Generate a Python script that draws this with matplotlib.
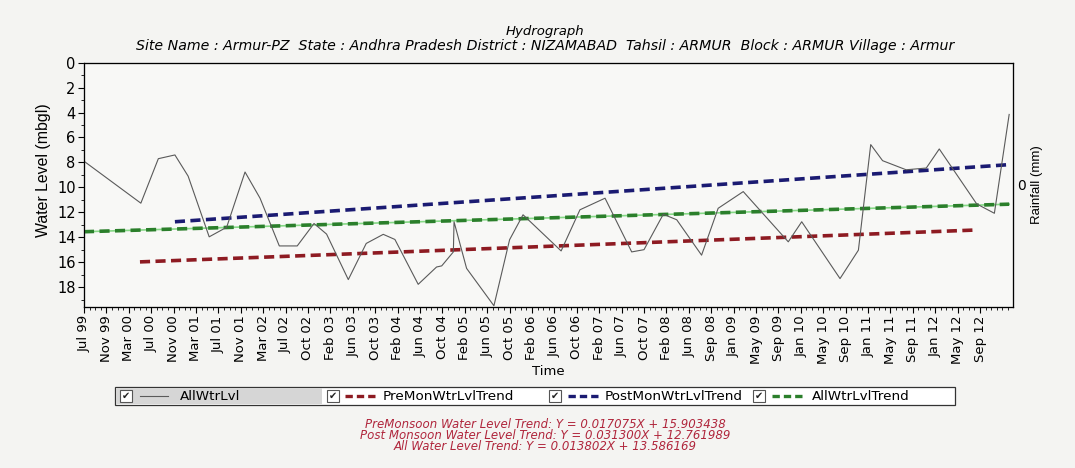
import matplotlib.pyplot as plt
import numpy as np
from matplotlib.lines import Line2D
from matplotlib.patches import Rectangle

plt.rcParams["font.family"] = ["Liberation Sans", "DejaVu Sans"]

# tick labels along the time axis (equally spaced categories)
tick_labels = [
    "Jul 99", "Nov 99", "Mar 00", "Jul 00", "Nov 00", "Mar 01", "Jul 01", "Nov 01",
    "Mar 02", "Jul 02", "Oct 02", "Feb 03", "Jun 03", "Oct 03", "Feb 04", "Jun 04",
    "Oct 04", "Feb 05", "Jun 05", "Oct 05", "Feb 06", "Jun 06", "Oct 06", "Feb 07",
    "Jun 07", "Oct 07", "Feb 08", "Jun 08", "Sep 08", "Jan 09", "May 09", "Sep 09",
    "Jan 10", "May 10", "Sep 10", "Jan 11", "May 11", "Sep 11", "Jan 12", "May 12",
    "Sep 12",
]

# all water level observations: position on the tick scale, depth (mbgl)
obs_pos = [
    0.0, 2.54, 3.32, 4.06, 4.65, 5.59, 6.37, 7.19, 7.86, 8.72, 9.52, 10.27, 10.83,
    11.8, 12.6, 13.36, 13.88, 14.92, 15.74, 15.97, 16.49, 16.52, 17.08, 18.3, 19.0,
    19.6, 21.3, 22.14, 23.26, 24.45, 25.0, 25.86, 26.46, 27.57, 28.31, 29.43, 31.44,
    32.04, 33.75, 34.57, 35.12, 35.65, 36.7, 37.6, 38.18, 39.85, 40.64, 41.3,
]
obs_level = [
    7.9, 11.27, 7.7, 7.4, 9.1, 13.97, 13.2, 8.77, 10.87, 14.7, 14.7, 12.9, 13.75,
    17.4, 14.5, 13.77, 14.18, 17.78, 16.39, 16.3, 15.18, 12.76, 16.5, 19.5, 14.2,
    12.2, 15.1, 11.8, 10.87, 15.18, 15.0, 12.16, 12.6, 15.44, 11.68, 10.34, 14.37,
    12.76, 17.32, 15.04, 6.57, 7.86, 8.59, 8.45, 6.92, 11.33, 12.08, 4.15,
]

# trend lines: (start pos, end pos), (start level, end level)
pre_pos = [2.5, 39.7]
pre_level = [15.98, 13.43]
post_pos = [4.06, 41.2]
post_level = [12.76, 8.19]
all_pos = [0.0, 41.3]
all_level = [13.56, 11.35]

equations = [
    "PreMonsoon Water Level Trend: Y = 0.017075X + 15.903438",
    "Post Monsoon Water Level Trend: Y = 0.031300X + 12.761989",
    "All Water Level Trend: Y = 0.013802X + 13.586169",
]

pre_color = "#8e1b22"
post_color = "#1b1b72"
all_color = "#2b7f2b"
line_color = "#5a5a5a"
dash = (2.8, 1.5)
wide = ["DejaVu Sans"]

fig = plt.figure(figsize=(10.75, 4.68), dpi=100, facecolor="#f4f4f2")
ax = fig.add_axes([0.0781, 0.344, 0.8642, 0.522])
ax.set_facecolor("#f8f8f6")

ax.plot(all_pos, all_level, color="#86d986", linewidth=1.2, zorder=2)
ax.plot(all_pos, all_level, color=all_color, linewidth=2.6, dashes=dash, zorder=3)
ax.plot(post_pos, post_level, color=post_color, linewidth=2.6, dashes=dash, zorder=3)
ax.plot(pre_pos, pre_level, color=pre_color, linewidth=2.6, dashes=dash, zorder=3)
ax.plot(obs_pos, obs_level, color=line_color, linewidth=0.8, zorder=4)

ax.set_xlim(0, 41.47)
ax.set_ylim(19.6, 0)
ax.set_yticks(np.arange(0, 19, 2))
ax.set_yticks(np.arange(1, 20, 2), minor=True)
ax.set_yticklabels([str(v) for v in range(0, 19, 2)], fontsize=10.5, family=wide)
ax.set_xticks(np.arange(len(tick_labels)))
ax.set_xticks(np.arange(0, 41.5, 0.25), minor=True)
ax.set_xticklabels(tick_labels, rotation=90, fontsize=9.5, family=wide)
ax.tick_params(axis="y", length=4, width=0.8, pad=2)
ax.tick_params(axis="x", length=4, width=0.8, pad=2)
ax.tick_params(which="minor", length=2, width=0.6)
ax.set_ylabel("Water Level (mbgl)", fontsize=11.4)
ax.yaxis.set_label_coords(-0.036, 0.56)
ax.set_xlabel("Time", fontsize=9.5, labelpad=1, family=wide)
for spine in ax.spines.values():
    spine.set_linewidth(0.9)
    spine.set_color("#333333")

ax2 = ax.twinx()
ax2.set_ylim(-1, 1)
ax2.set_yticks([0])
ax2.set_yticklabels(["0"], fontsize=10, family=wide)
ax2.tick_params(axis="y", length=0, pad=3)
ax2.set_ylabel("Rainfall (mm)", fontsize=9.5, labelpad=4)

fig.text(0.507, 0.925, "Hydrograph", ha="center", fontsize=9.5, style="italic", family=wide)
fig.text(0.507, 0.893,
         "Site Name : Armur-PZ  State : Andhra Pradesh District : NIZAMABAD  Tahsil : ARMUR  Block : ARMUR Village : Armur",
         ha="center", fontsize=10.2, style="italic", family=wide)


# legend strip with check boxes
def fx(px):
    return px / 1075


def fy(py):
    return 1 - py / 468


fig.add_artist(Rectangle((fx(115), fy(405)), fx(840), 18 / 468, facecolor="white",
                         edgecolor="#333333", linewidth=0.9, transform=fig.transFigure))
fig.add_artist(Rectangle((fx(116), fy(404)), fx(206), 16 / 468, facecolor="#d6d6d6",
                         edgecolor="none", transform=fig.transFigure))
entries = [
    (120, "AllWtrLvl", line_color, None, 0.8, 140, 168, 180),
    (327, "PreMonWtrLvlTrend", pre_color, (2.2, 1.2), 2.4, 345, 376, 383),
    (549, "PostMonWtrLvlTrend", post_color, (2.2, 1.2), 2.4, 568, 598, 605),
    (753, "AllWtrLvlTrend", all_color, (2.2, 1.2), 2.4, 772, 804, 812),
]
for box_x, label, color, dashes, lw, x0, x1, tx in entries:
    fig.add_artist(Rectangle((fx(box_x), fy(402)), fx(12), 12 / 468, facecolor="white",
                             edgecolor="#555555", linewidth=0.8, transform=fig.transFigure))
    fig.text(fx(box_x + 6), fy(396), "\u2714", ha="center", va="center", fontsize=7,
             color="#222222", family=wide)
    line = Line2D([fx(x0), fx(x1)], [fy(396), fy(396)], color=color, linewidth=lw,
                  transform=fig.transFigure)
    if dashes is not None:
        line.set_dashes(dashes)
    fig.add_artist(line)
    fig.text(fx(tx), fy(396), label, ha="left", va="center", fontsize=9.7, family=wide)

for i, eq in enumerate(equations):
    fig.text(0.507, fy(424 + 11.5 * i), eq, ha="center", va="center", fontsize=8.5,
             style="italic", color="#b0263c", family=wide)

fig.savefig("out.png", dpi=100, facecolor=fig.get_facecolor())
